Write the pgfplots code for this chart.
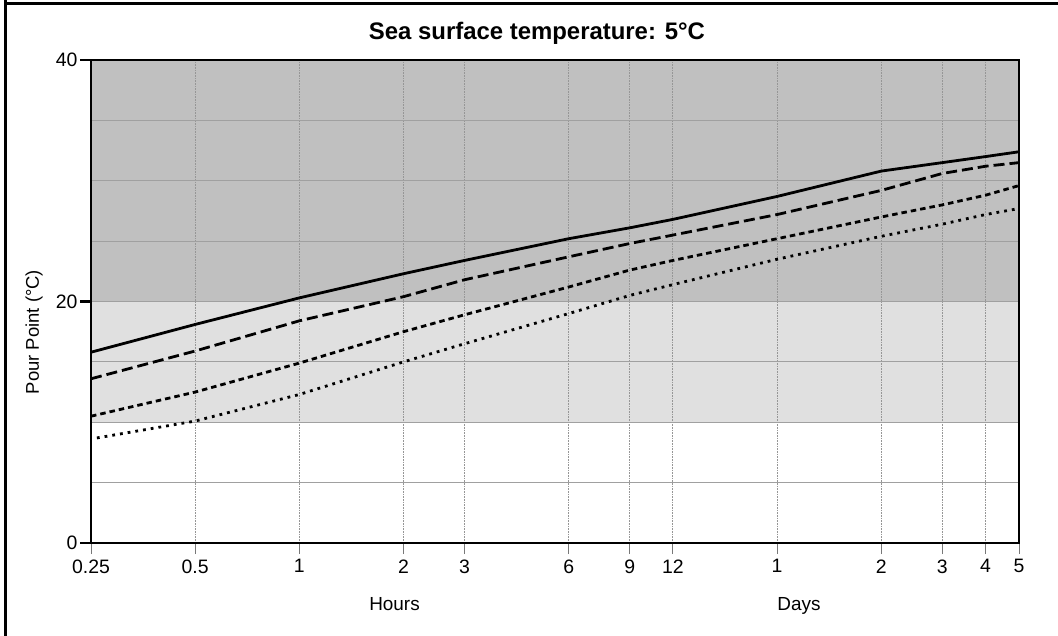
\documentclass[border=0pt]{standalone}
\usepackage{pgfplots}
\pgfplotsset{compat=1.18}
\usepackage{fontspec}
\setmainfont{Liberation Sans}
\definecolor{banddark}{RGB}{192,192,192}
\definecolor{bandlight}{RGB}{224,224,224}
\definecolor{gridc}{RGB}{150,150,150}
\begin{document}
\begin{tikzpicture}
\begin{axis}[
  at={(91bp,93bp)}, anchor=south west, scale only axis,
  width=928bp, height=483bp,
  xmode=log, xmin=0.25, xmax=120, ymin=0, ymax=40,
  set layers,
  axis line style={line width=2.8bp},
  xtick pos=bottom, ytick pos=left,
  xtick={0.25,0.5,1,2,3,6,9,12,24,48,72,96,120},
  xticklabels={0.25,0.5,1,2,3,6,9,12,1,2,3,4,5},
  ytick={0,20,40}, yticklabels={0,20,40},
  minor ytick={5,10,15,25,30,35},
  tick align=outside, major tick length=11bp, minor tick length=0pt,
  xtick style={line width=0.9bp, gridc!80!black},
  ytick style={line width=2.6bp, black},
  xmajorgrids, ymajorgrids, yminorgrids,
  x grid style={line width=0.9bp, gridc, dash pattern=on 1bp off 0.6bp},
  major y grid style={line width=1bp, gridc!90},
  minor y grid style={line width=1bp, gridc!90},
  tick label style={font=\fontsize{19.5}{19.5}\selectfont},
  xticklabel style={yshift=-2bp},
  yticklabel style={xshift=1bp},
]
\addplot[on layer=axis background, fill=banddark, draw=none] coordinates {(0.25,20) (120,20) (120,40) (0.25,40)};
\addplot[on layer=axis background, fill=bandlight, draw=none] coordinates {(0.25,10) (120,10) (120,20) (0.25,20)};
% solid
\addplot[black, line width=2.8bp] coordinates {
(0.25,15.8)(0.5,18.1)(1,20.3)(2,22.3)(3,23.4)(6,25.2)(9,26.1)(12,26.8)(24,28.7)(48,30.8)(72,31.5)(96,32.0)(120,32.4)};
% long dash
\addplot[black, line width=2.8bp, dash pattern=on 11bp off 5bp] coordinates {
(0.25,13.6)(0.5,15.9)(1,18.4)(2,20.4)(3,21.8)(6,23.7)(9,24.8)(12,25.5)(24,27.2)(48,29.2)(72,30.6)(96,31.2)(120,31.5)};
% short dash
\addplot[black, line width=2.8bp, dash pattern=on 5.5bp off 4bp] coordinates {
(0.25,10.5)(0.5,12.5)(1,14.9)(2,17.5)(3,18.9)(6,21.2)(9,22.6)(12,23.4)(24,25.2)(48,27.0)(72,28.0)(96,28.8)(120,29.6)};
% dotted
\addplot[black, line width=2.8bp, dash pattern=on 2.8bp off 5bp] coordinates {
(0.26,8.7)(0.5,10.1)(1,12.3)(2,15.0)(3,16.5)(6,19.0)(9,20.5)(12,21.4)(24,23.5)(48,25.4)(72,26.4)(96,27.2)(120,27.7)};
\end{axis}
\useasboundingbox (0,0) rectangle (1058bp,636bp);
\draw[line width=3bp] (5.5bp,636bp) -- (5.5bp,632.5bp) -- (1058bp,632.5bp);
\draw[line width=3bp] (5.5bp,0) -- (5.5bp,634bp);
\node[font=\fontsize{24}{24}\selectfont\bfseries] at (537bp,603bp) {Sea surface temperature: 5°C};
\node[rotate=90, font=\fontsize{18.5}{18.5}\selectfont] at (34bp,304bp) {Pour Point (°C)};
\node[anchor=base, font=\fontsize{19}{19}\selectfont] at (394.5bp,26bp) {Hours};
\node[anchor=base, font=\fontsize{19}{19}\selectfont] at (799bp,26bp) {Days};
\end{tikzpicture}
\end{document}
